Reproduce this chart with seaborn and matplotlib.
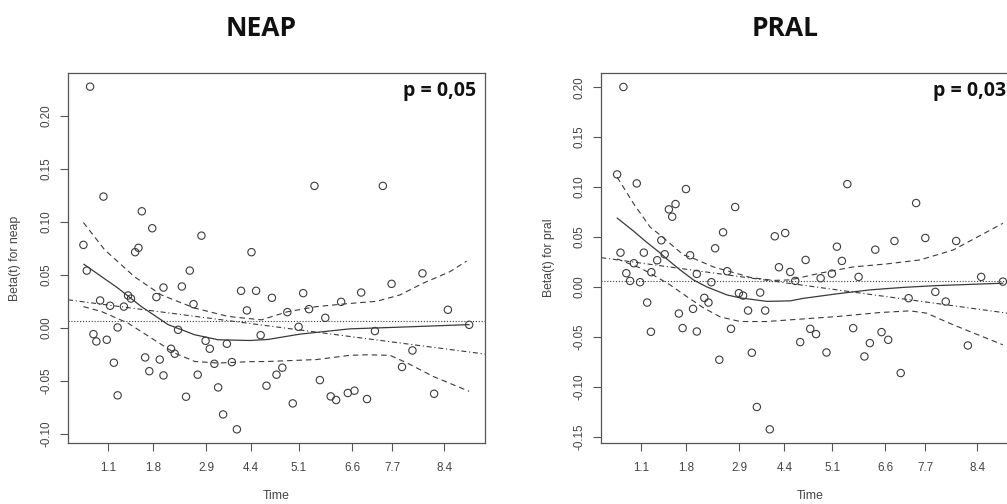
import numpy as np
import pandas as pd
import matplotlib
matplotlib.use("Agg")
import matplotlib.pyplot as plt
import seaborn as sns

# ---------------- data ----------------
# x: KM-transformed time (0..1), y: scaled Schoenfeld residual
tick_pos = [0.096, 0.204, 0.331, 0.439, 0.554, 0.681, 0.777, 0.902]
tick_labels = ["1.1", "1.8", "2.9", "4.4", "5.1", "6.6", "7.7", "8.4"]

neap_x = [0.053, 0.085, 0.037, 0.045, 0.177, 0.202, 0.161, 0.169, 0.320, 0.292,
          0.440, 0.591, 0.755, 0.850, 0.077, 0.101, 0.144, 0.151, 0.134, 0.212,
          0.229, 0.273, 0.301, 0.415, 0.451, 0.429, 0.462, 0.061, 0.068, 0.093,
          0.119, 0.110, 0.119, 0.185, 0.195, 0.220, 0.229, 0.247, 0.256, 0.264,
          0.283, 0.311, 0.330, 0.340, 0.351, 0.360, 0.372, 0.381, 0.393, 0.405,
          0.489, 0.564, 0.526, 0.578, 0.617, 0.655, 0.703, 0.776, 0.911, 0.962,
          0.553, 0.736, 0.826, 0.801, 0.514, 0.500, 0.476, 0.604, 0.539, 0.630,
          0.643, 0.671, 0.687, 0.717, 0.878]
neap_y = [0.2277, 0.1239, 0.0783, 0.0540, 0.1100, 0.0940, 0.0714, 0.0755, 0.0870, 0.0540,
          0.0714, 0.1340, 0.1340, 0.0514, 0.0258, 0.0208, 0.0305, 0.0276, 0.0200, 0.0290,
          0.0380, 0.0390, 0.0223, 0.0349, 0.0349, 0.0164, -0.0070, -0.0060, -0.0129, -0.0113,
          0.0003, -0.0330, -0.0638, -0.0280, -0.0410, -0.0300, -0.0450, -0.0198, -0.0245, -0.0019,
          -0.0651, -0.0443, -0.0123, -0.0198, -0.0340, -0.0563, -0.0818, -0.0151, -0.0324, -0.0959,
          0.0283, 0.0327, 0.0148, 0.0176, 0.0094, 0.0245, 0.0333, 0.0415, 0.0170, 0.0028,
          0.0009, -0.0031, -0.0214, -0.0370, -0.0377, -0.0443, -0.0547, -0.0494, -0.0714, -0.0648,
          -0.0682, -0.0616, -0.0594, -0.0673, -0.0623]

neap_fit_x = [0.038, 0.120, 0.176, 0.240, 0.304, 0.360, 0.436, 0.480, 0.556, 0.676, 0.796, 0.962]
neap_fit_y = [0.060, 0.0374, 0.020, 0.003, -0.0066, -0.0113, -0.012, -0.011, -0.006, -0.001, 0.0006, 0.003]
neap_up_x = [0.037, 0.088, 0.160, 0.224, 0.304, 0.384, 0.464, 0.525, 0.596, 0.676, 0.740, 0.796, 0.851, 0.916, 0.956]
neap_up_y = [0.0994, 0.0736, 0.048, 0.031, 0.0186, 0.0107, 0.0075, 0.015, 0.020, 0.023, 0.025, 0.031, 0.042, 0.053, 0.063]
neap_lo_x = [0.037, 0.080, 0.144, 0.200, 0.256, 0.304, 0.360, 0.436, 0.480, 0.596, 0.676, 0.716, 0.772, 0.812, 0.876, 0.962]
neap_lo_y = [0.020, 0.0154, 0.0044, -0.0097, -0.0239, -0.0318, -0.0333, -0.032, -0.0318, -0.030, -0.026, -0.0255, -0.026, -0.033, -0.046, -0.060]
neap_trend_x = [0.0, 1.0]
neap_trend_y = [0.0264, -0.0248]
neap_coef = 0.006

pral_x = [0.053, 0.038, 0.085, 0.203, 0.162, 0.178, 0.170, 0.321, 0.292, 0.416,
          0.144, 0.273, 0.046, 0.102, 0.152, 0.213, 0.134, 0.078, 0.120, 0.060,
          0.229, 0.302, 0.426, 0.069, 0.093, 0.264, 0.110, 0.119, 0.186, 0.195,
          0.220, 0.229, 0.247, 0.257, 0.283, 0.311, 0.330, 0.340, 0.352, 0.361,
          0.373, 0.381, 0.393, 0.404, 0.441, 0.590, 0.755, 0.565, 0.657, 0.703,
          0.777, 0.851, 0.490, 0.577, 0.453, 0.553, 0.526, 0.617, 0.911, 0.465,
          0.963, 0.737, 0.801, 0.826, 0.477, 0.501, 0.515, 0.540, 0.604, 0.631,
          0.644, 0.672, 0.688, 0.718, 0.879]
pral_y = [0.2003, 0.1127, 0.1037, 0.0980, 0.0777, 0.0830, 0.0703, 0.0800, 0.0547, 0.0507,
          0.0467, 0.0387, 0.0343, 0.0343, 0.0327, 0.0317, 0.0267, 0.0237, 0.0147, 0.0137,
          0.0130, 0.0157, 0.0197, 0.0060, 0.0047, 0.0047, -0.0157, -0.0450, -0.0267, -0.0413,
          -0.0220, -0.0447, -0.0110, -0.0157, -0.0730, -0.0420, -0.0063, -0.0087, -0.0237, -0.0660,
          -0.1203, -0.0057, -0.0237, -0.1427, 0.0540, 0.1030, 0.0840, 0.0403, 0.0373, 0.0460,
          0.0490, 0.0460, 0.0270, 0.0260, 0.0150, 0.0133, 0.0087, 0.0100, 0.0100, 0.0060,
          0.0053, -0.0113, -0.0050, -0.0147, -0.0553, -0.0420, -0.0473, -0.0657, -0.0413, -0.0697,
          -0.0563, -0.0453, -0.0530, -0.0863, -0.0587]

pral_fit_x = [0.038, 0.077, 0.108, 0.141, 0.157, 0.189, 0.221, 0.253, 0.277, 0.301, 0.333, 0.397, 0.453, 0.484, 0.564, 0.644, 0.724, 0.804, 0.963]
pral_fit_y = [0.069, 0.056, 0.045, 0.034, 0.028, 0.017, 0.007, 0.000, -0.004, -0.008, -0.011, -0.0145, -0.014, -0.0115, -0.007, -0.003, -0.0005, 0.0013, 0.0037]
pral_up_x = [0.038, 0.077, 0.117, 0.141, 0.197, 0.213, 0.269, 0.333, 0.357, 0.413, 0.453, 0.524, 0.604, 0.684, 0.764, 0.844, 0.963]
pral_up_y = [0.110, 0.0837, 0.060, 0.052, 0.032, 0.030, 0.020, 0.0125, 0.0095, 0.0065, 0.007, 0.0137, 0.020, 0.023, 0.027, 0.037, 0.0637]
pral_lo_x = [0.038, 0.093, 0.117, 0.165, 0.205, 0.245, 0.285, 0.333, 0.397, 0.453, 0.565, 0.668, 0.740, 0.780, 0.844, 0.963]
pral_lo_y = [0.028, 0.019, 0.0137, 0.002, -0.0097, -0.021, -0.030, -0.0347, -0.0347, -0.033, -0.0297, -0.0257, -0.024, -0.0263, -0.038, -0.058]
pral_trend_x = [0.0, 1.0]
pral_trend_y = [0.0293, -0.0278]
pral_coef = 0.0063

panels = [
    dict(title="NEAP", ylabel="Beta(t) for neap", p="p = 0,05",
         x=neap_x, y=neap_y, fit=(neap_fit_x, neap_fit_y), up=(neap_up_x, neap_up_y),
         lo=(neap_lo_x, neap_lo_y), trend=(neap_trend_x, neap_trend_y), coef=neap_coef,
         yticks=[-0.10, -0.05, 0.00, 0.05, 0.10, 0.15, 0.20], ylim=(-0.1088, 0.2406),
         left=68, px=0.978, tx=261),
    dict(title="PRAL", ylabel="Beta(t) for pral", p="p = 0,03",
         x=pral_x, y=pral_y, fit=(pral_fit_x, pral_fit_y), up=(pral_up_x, pral_up_y),
         lo=(pral_lo_x, pral_lo_y), trend=(pral_trend_x, pral_trend_y), coef=pral_coef,
         yticks=[-0.15, -0.10, -0.05, 0.00, 0.05, 0.10, 0.15, 0.20], ylim=(-0.1564, 0.2143),
         left=601.3, px=0.9705, tx=785),
]

# ---------------- plot ----------------
sns.set_theme(style="white")
plt.rcParams["font.family"] = ["Liberation Sans", "DejaVu Sans"]

W, H = 1007, 504
fig = plt.figure(figsize=(W / 100, H / 100), dpi=100)
fig.patch.set_facecolor("white")

line_col = "#3a3a3a"
axis_col = "#555555"
txt_col = "#444444"

for P in panels:
    ax = fig.add_axes([P["left"] / W, (H - 443) / H, 417 / W, 370 / H])
    ax.set_facecolor("white")
    sns.scatterplot(x=P["x"], y=P["y"], ax=ax, marker="o", s=28,
                    facecolors="none", edgecolor="#3c3c3c", linewidth=0.8, zorder=3)
    fx, fy = P["fit"]
    sns.lineplot(x=fx, y=fy, ax=ax, color=line_col, linewidth=0.9, sort=True)
    for band in (P["up"], P["lo"]):
        sns.lineplot(x=band[0], y=band[1], ax=ax, color=line_col, linewidth=0.8,
                     linestyle=(0, (5, 3.5)), sort=True)
    tx, ty = P["trend"]
    sns.lineplot(x=tx, y=ty, ax=ax, color=line_col, linewidth=0.8,
                 linestyle=(0, (4.5, 2.5, 1, 2.5)))
    ax.axhline(P["coef"], color=line_col, linewidth=0.8, linestyle=(0, (1, 1.6)))

    ax.set_xlim(0, 1)
    ax.set_ylim(*P["ylim"])
    ax.set_xticks(tick_pos)
    ax.set_xticklabels(tick_labels)
    ax.set_yticks(P["yticks"])
    ax.set_yticklabels([f"{v:.2f}" for v in P["yticks"]])
    for lbl in ax.get_yticklabels():
        lbl.set_rotation(90)
        lbl.set_va("center")
    ax.tick_params(axis="both", direction="out", length=5.5, width=0.8,
                   color=axis_col, labelcolor=txt_col, labelsize=8.4,
                   bottom=True, left=True)
    ax.tick_params(axis="x", pad=8.5)
    ax.tick_params(axis="y", pad=6)
    for sp in ax.spines.values():
        sp.set_visible(True)
        sp.set_color(axis_col)
        sp.set_linewidth(0.9)

    ax.set_xlabel("Time", fontsize=8.8, color=txt_col)
    ax.xaxis.set_label_coords(0.5, -0.126)
    ax.set_ylabel(P["ylabel"], fontsize=8.8, color=txt_col)
    ax.yaxis.set_label_coords(-0.112, 0.5)

    ax.text(P["px"], 0.938, P["p"], transform=ax.transAxes, ha="right", va="baseline",
            fontsize=14, fontweight="bold", family=["Open Sans", "DejaVu Sans"], color="#111111")

    fig.text(P["tx"] / W, 1 - 36 / H, P["title"], ha="center", va="baseline",
             fontsize=19, fontweight="bold", family=["Open Sans", "DejaVu Sans"], color="#111111")

fig.savefig("out.png", dpi=100, facecolor="white")
